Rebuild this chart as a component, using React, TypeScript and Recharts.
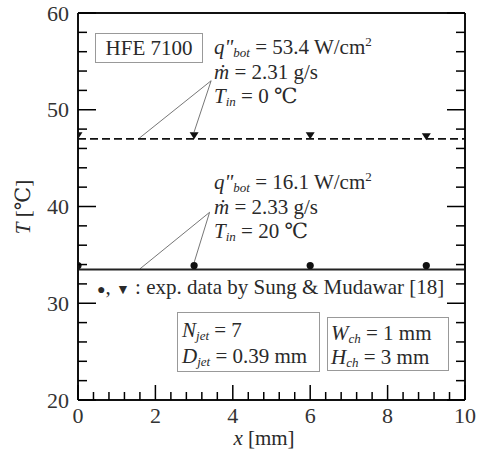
import { ComposedChart, Line, Scatter, XAxis, YAxis, ReferenceLine } from 'recharts'

// axis ticks (minor + major), majors every 2 mm / 10 degC
const xTicks = [0, 0.4, 0.8, 1.2, 1.6, 2, 2.4, 2.8, 3.2, 3.6, 4, 4.4, 4.8, 5.2, 5.6, 6, 6.4, 6.8, 7.2, 7.6, 8, 8.4, 8.8, 9.2, 9.6, 10]
const yTicks = [20, 22, 24, 26, 28, 30, 32, 34, 36, 38, 40, 42, 44, 46, 48, 50, 52, 54, 56, 58, 60]

// simulation lines
const simX = [0, 10]
const simHigh = [47.0, 47.0]
const simLow = [33.5, 33.5]

// exp. data by Sung & Mudawar
const expX = [0, 3, 6, 9]
const expHigh = [47.3, 47.3, 47.3, 47.2]
const expLow = [33.9, 33.9, 33.9, 33.9]

// leader lines from the text blocks (data coords)
const leaderHigh = [
  [{ x: 3.44, y: 53.0 }, { x: 1.58, y: 47.05 }],
  [{ x: 3.44, y: 53.0 }, { x: 3.0, y: 47.7 }],
]
const leaderLow = [
  [{ x: 3.4, y: 39.4 }, { x: 1.6, y: 33.55 }],
  [{ x: 3.4, y: 39.4 }, { x: 3.0, y: 34.2 }],
]

const highLine = simX.map((x, i) => ({ x, y: simHigh[i] }))
const lowLine = simX.map((x, i) => ({ x, y: simLow[i] }))
const highPts = expX.map((x, i) => ({ x, y: expHigh[i] }))
const lowPts = expX.map((x, i) => ({ x, y: expLow[i] }))

const FONT = "'Liberation Serif', 'Times New Roman', 'DejaVu Serif', serif"

function isMajor(v: number, step: number) {
  const r = v / step
  return Math.abs(r - Math.round(r)) < 1e-6
}

function AxisTick(props: any) {
  const { x, y, payload, side, step, showLabel } = props
  const v = payload.value
  const major = isMajor(v, step)
  const horiz = side === 'bottom' || side === 'top'
  const len = horiz ? (major ? 15 : 8) : major ? 18 : 9
  let x2 = x
  let y2 = y
  if (side === 'bottom') y2 = y - len
  if (side === 'top') y2 = y + len
  if (side === 'left') x2 = x + len
  if (side === 'right') x2 = x - len
  const ts = { fontFamily: FONT, fontSize: 22 }
  return (
    <g>
      <line x1={x} y1={y} x2={x2} y2={y2} stroke="#000" strokeWidth={1.5} />
      {showLabel && major && side === 'bottom' && (
        <text x={x} y={y + 23} textAnchor="middle" style={ts} fill="#333">
          {v}
        </text>
      )}
      {showLabel && major && side === 'left' && (
        <text x={x - 9} y={y} dy="0.35em" textAnchor="end" style={ts} fill="#333">
          {v}
        </text>
      )}
    </g>
  )
}

function Triangle(props: any) {
  const { cx, cy } = props
  return <polygon points={`${cx - 4.5},${cy - 3.5} ${cx + 4.5},${cy - 3.5} ${cx},${cy + 3.5}`} fill="#111" />
}

function Dot(props: any) {
  const { cx, cy } = props
  return <circle cx={cx} cy={cy} r={3.6} fill="#111" />
}

const axisLine = { stroke: '#111', strokeWidth: 2 }

function Notes() {
  const t = { style: { fontFamily: FONT, fontSize: 21 }, fill: '#2a2a2a' }
  const sub = 13
  return (
    <svg width={479} height={451} style={{ position: 'absolute', left: 0, top: 0, pointerEvents: 'none' }}>
      <rect x={95.5} y={33.5} width={107} height={29} fill="#fff" stroke="#999" strokeWidth={1} />
      <text x={149} y={55} textAnchor="middle" {...t}>HFE 7100</text>

      <text x={214} y={54} {...t}>
        <tspan fontStyle="italic">q"</tspan>
        <tspan fontStyle="italic" fontSize={sub} dy={3}>bot</tspan>
        <tspan dy={-3}> = 53.4 W/cm</tspan>
        <tspan fontSize={sub} dy={-8}>2</tspan>
      </text>
      <text x={214} y={79} {...t}>
        <tspan fontStyle="italic">ṁ</tspan>
        <tspan> = 2.31 g/s</tspan>
      </text>
      <text x={214} y={103} {...t}>
        <tspan fontStyle="italic">T</tspan>
        <tspan fontStyle="italic" fontSize={sub} dy={3}>in</tspan>
        <tspan dy={-3}> = 0 ℃</tspan>
      </text>

      <text x={214} y={189} {...t}>
        <tspan fontStyle="italic">q"</tspan>
        <tspan fontStyle="italic" fontSize={sub} dy={3}>bot</tspan>
        <tspan dy={-3}> = 16.1 W/cm</tspan>
        <tspan fontSize={sub} dy={-8}>2</tspan>
      </text>
      <text x={214} y={214} {...t}>
        <tspan fontStyle="italic">ṁ</tspan>
        <tspan> = 2.33 g/s</tspan>
      </text>
      <text x={214} y={238} {...t}>
        <tspan fontStyle="italic">T</tspan>
        <tspan fontStyle="italic" fontSize={sub} dy={3}>in</tspan>
        <tspan dy={-3}> = 20 ℃</tspan>
      </text>

      <text x={97} y={294} {...t}>
        <tspan fontSize={14}>●</tspan>
        <tspan>, </tspan>
        <tspan fontSize={14}>▼</tspan>
        <tspan> : exp. data by Sung &amp; Mudawar [18]</tspan>
      </text>

      <rect x={177.5} y={312.5} width={142} height={59} fill="#fff" stroke="#999" strokeWidth={1} />
      <text x={182} y={337} {...t}>
        <tspan fontStyle="italic">N</tspan>
        <tspan fontStyle="italic" fontSize={sub} dy={3}>jet</tspan>
        <tspan dy={-3}> = 7</tspan>
      </text>
      <text x={182} y={363} {...t}>
        <tspan fontStyle="italic">D</tspan>
        <tspan fontStyle="italic" fontSize={sub} dy={3}>jet</tspan>
        <tspan dy={-3}> = 0.39 mm</tspan>
      </text>

      <rect x={327.5} y={317.5} width={121} height={53} fill="#fff" stroke="#999" strokeWidth={1} />
      <text x={331} y={340} {...t}>
        <tspan fontStyle="italic">W</tspan>
        <tspan fontStyle="italic" fontSize={sub} dy={3}>ch</tspan>
        <tspan dy={-3}> = 1 mm</tspan>
      </text>
      <text x={331} y={364} {...t}>
        <tspan fontStyle="italic">H</tspan>
        <tspan fontStyle="italic" fontSize={sub} dy={3}>ch</tspan>
        <tspan dy={-3}> = 3 mm</tspan>
      </text>

      <text x={264} y={445} textAnchor="middle" {...t}>
        <tspan fontStyle="italic">x</tspan> [mm]
      </text>
      <text x={0} y={0} textAnchor="middle" transform="translate(30,207) rotate(-90)" {...t}>
        <tspan fontStyle="italic">T</tspan> [℃]
      </text>
    </svg>
  )
}

export default function App() {
  return (
    <div style={{ position: 'absolute', left: 0, top: 0, width: 479, height: 451, background: '#fff' }}>
      <ComposedChart width={479} height={451} margin={{ top: 0, right: 0, bottom: 21, left: 18 }}>
        <XAxis
          xAxisId={0}
          dataKey="x"
          type="number"
          domain={[0, 10]}
          allowDataOverflow
          ticks={xTicks}
          interval={0}
          height={30}
          tickSize={0}
          tickMargin={0}
          axisLine={axisLine}
          tickLine={false}
          tick={(p: any) => <AxisTick {...p} side="bottom" step={2} showLabel />}
        />
        <XAxis
          xAxisId="top"
          orientation="top"
          type="number"
          domain={[0, 10]}
          allowDataOverflow
          ticks={xTicks}
          interval={0}
          height={13}
          tickSize={0}
          tickMargin={0}
          axisLine={axisLine}
          tickLine={false}
          tick={(p: any) => <AxisTick {...p} side="top" step={2} />}
        />
        <YAxis
          yAxisId={0}
          dataKey="y"
          type="number"
          domain={[20, 60]}
          allowDataOverflow
          ticks={yTicks}
          interval={0}
          width={60}
          tickSize={0}
          tickMargin={0}
          axisLine={axisLine}
          tickLine={false}
          tick={(p: any) => <AxisTick {...p} side="left" step={10} showLabel />}
        />
        <YAxis
          yAxisId="right"
          orientation="right"
          type="number"
          domain={[20, 60]}
          allowDataOverflow
          ticks={yTicks}
          interval={0}
          width={14}
          tickSize={0}
          tickMargin={0}
          axisLine={axisLine}
          tickLine={false}
          tick={(p: any) => <AxisTick {...p} side="right" step={10} />}
        />

        {leaderHigh.concat(leaderLow).map((seg, i) => (
          <ReferenceLine key={i} segment={seg} stroke="#666" strokeWidth={0.9} ifOverflow="visible" />
        ))}

        <Line data={highLine} dataKey="y" type="linear" stroke="#111" strokeWidth={1.8} strokeDasharray="8 4" dot={false} isAnimationActive={false} />
        <Line data={lowLine} dataKey="y" type="linear" stroke="#222" strokeWidth={2} dot={false} isAnimationActive={false} />
        <Scatter data={highPts} dataKey="y" shape={<Triangle />} isAnimationActive={false} />
        <Scatter data={lowPts} dataKey="y" shape={<Dot />} isAnimationActive={false} />
      </ComposedChart>
      <Notes />
    </div>
  )
}
